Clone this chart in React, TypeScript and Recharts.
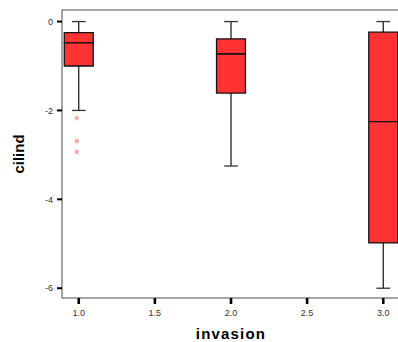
import React from 'react';
import { ComposedChart, XAxis, YAxis, ReferenceArea, ReferenceLine, Scatter, Label } from 'recharts';

const categories = [1, 2, 3];
const whiskerHigh = [0, 0, 0];
const q3 = [-0.25, -0.39, -0.24];
const median = [-0.48, -0.73, -2.25];
const q1 = [-1.0, -1.61, -4.98];
const whiskerLow = [-2.0, -3.25, -6.0];
const outlierX = [1, 1, 1];
const outlierY = [-2.17, -2.69, -2.93];
const xTicks = [1.0, 1.5, 2.0, 2.5, 3.0];
const yTicks = [-6, -4, -2, 0];

const xDomain: [number, number] = [0.89, 3.11];
const yDomain: [number, number] = [-6.22, 0.26];
const halfBox = 0.095;
const halfCap = 0.045;

const outliers = outlierX.map((x, i) => ({ x, y: outlierY[i] }));

const FONT = "Arial, 'Liberation Sans', sans-serif";

const Asterisk = (props: any) => {
  const { cx, cy } = props;
  if (cx == null || cy == null) return null;
  const x = cx - 2;
  const r = 2.2;
  return (
    <g stroke="#ff9a9a" strokeWidth={1.1}>
      <line x1={x - r} y1={cy} x2={x + r} y2={cy} />
      <line x1={x - r * 0.7} y1={cy - r} x2={x + r * 0.7} y2={cy + r} />
      <line x1={x + r * 0.7} y1={cy - r} x2={x - r * 0.7} y2={cy + r} />
    </g>
  );
};

export default function App() {
  return (
    <div style={{ position: 'absolute', left: 0, top: 0, width: 398, height: 342, overflow: 'hidden', background: '#fff' }}>
      <ComposedChart
        width={410}
        height={342}
        data={outliers}
        margin={{ top: 10, right: 10, bottom: 0, left: 0 }}
      >
        <XAxis
          type="number"
          dataKey="x"
          domain={xDomain}
          ticks={xTicks}
          allowDataOverflow
          tickFormatter={(v: number) => v.toFixed(1)}
          axisLine={false}
          tickSize={6}
          tickMargin={6}
          tickLine={{ stroke: '#000', strokeWidth: 2.6 }}
          tick={{ fontSize: 9, fill: '#333', fontFamily: FONT }}
          height={44}
          interval={0}
        >
          <Label
            value="invasion"
            position="insideBottom"
            offset={3}
            style={{ fontSize: 15, fontWeight: 'bold', fill: '#000', fontFamily: FONT, letterSpacing: 1.2 }}
          />
        </XAxis>
        <YAxis
          type="number"
          dataKey="y"
          domain={yDomain}
          ticks={yTicks}
          allowDataOverflow
          axisLine={false}
          tickSize={5}
          tickMargin={4}
          tickLine={{ stroke: '#000', strokeWidth: 2 }}
          tick={{ fontSize: 9, fill: '#333', fontFamily: FONT }}
          width={62}
          interval={0}
        >
          <Label
            value="cilind"
            angle={-90}
            position="insideLeft"
            offset={19}
            textAnchor="middle"
            style={{ fontSize: 15, fontWeight: 'bold', fill: '#000', fontFamily: FONT, textAnchor: 'middle' }}
          />
        </YAxis>

        <ReferenceArea
          x1={xDomain[0]}
          x2={xDomain[1]}
          y1={yDomain[0]}
          y2={yDomain[1]}
          fill="none"
          fillOpacity={0}
          stroke="#888"
          strokeWidth={1.5}
          ifOverflow="visible"
        />

        {categories.map((c, i) => (
          <ReferenceLine
            key={`uw${i}`}
            segment={[{ x: c, y: q3[i] }, { x: c, y: whiskerHigh[i] }]}
            stroke="#111"
            strokeWidth={1.2}
            ifOverflow="visible"
          />
        ))}
        {categories.map((c, i) => (
          <ReferenceLine
            key={`lw${i}`}
            segment={[{ x: c, y: q1[i] }, { x: c, y: whiskerLow[i] }]}
            stroke="#111"
            strokeWidth={1.2}
            ifOverflow="visible"
          />
        ))}
        {categories.map((c, i) => (
          <ReferenceLine
            key={`uc${i}`}
            segment={[{ x: c - halfCap, y: whiskerHigh[i] }, { x: c + halfCap, y: whiskerHigh[i] }]}
            stroke="#333"
            strokeWidth={1.3}
            ifOverflow="visible"
          />
        ))}
        {categories.map((c, i) => (
          <ReferenceLine
            key={`lc${i}`}
            segment={[{ x: c - halfCap, y: whiskerLow[i] }, { x: c + halfCap, y: whiskerLow[i] }]}
            stroke="#333"
            strokeWidth={1.3}
            ifOverflow="visible"
          />
        ))}
        {categories.map((c, i) => (
          <ReferenceArea
            key={`bu${i}`}
            x1={c - halfBox}
            x2={c + halfBox}
            y1={median[i]}
            y2={q3[i]}
            fill="#ff3333"
            fillOpacity={1}
            stroke="#111"
            strokeWidth={1.3}
            ifOverflow="visible"
          />
        ))}
        {categories.map((c, i) => (
          <ReferenceArea
            key={`bl${i}`}
            x1={c - halfBox}
            x2={c + halfBox}
            y1={q1[i]}
            y2={median[i]}
            fill="#ff3333"
            fillOpacity={1}
            stroke="#111"
            strokeWidth={1.3}
            ifOverflow="visible"
          />
        ))}

        <Scatter data={outliers} dataKey="y" shape={<Asterisk />} isAnimationActive={false} />
      </ComposedChart>
    </div>
  );
}
